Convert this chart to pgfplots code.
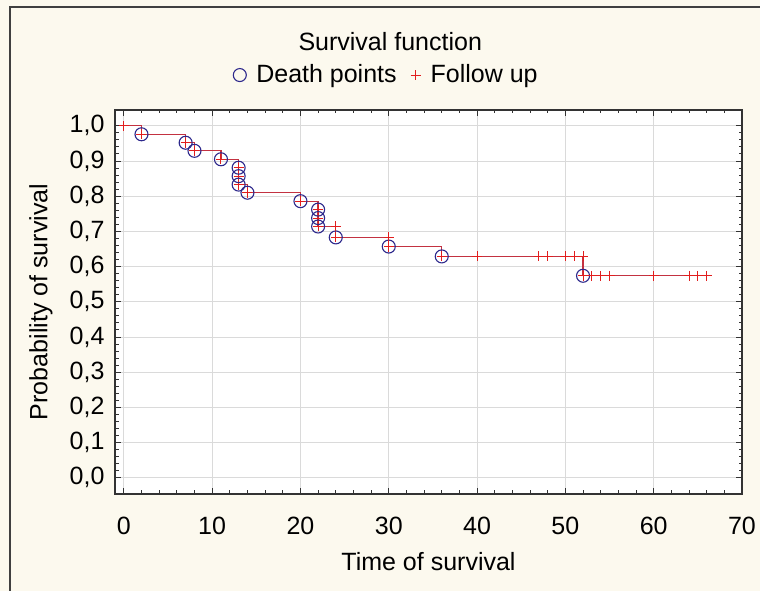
\documentclass[border=0pt]{standalone}
\usepackage{pgfplots}
\pgfplotsset{compat=1.18}
\usepackage{fontspec}
\setmainfont{Liberation Sans}
\definecolor{bgc}{RGB}{252,249,238}
\definecolor{linec}{RGB}{195,50,65}
\definecolor{plusc}{RGB}{225,30,30}
\definecolor{circc}{RGB}{45,40,140}
\definecolor{gridc}{RGB}{218,218,218}
\begin{document}
\fontsize{25}{30}\selectfont
\begin{tikzpicture}[x=1pt,y=1pt]
\fill[bgc] (0,0) rectangle (760,591);
\useasboundingbox (0,0) rectangle (760,591);
\draw[black!75, line width=1.5pt] (10,0) -- (10,584) -- (760,584);
\begin{axis}[
  at={(115pt,97pt)}, anchor=south west,
  scale only axis, width=627pt, height=384pt,
  xmin=-1, xmax=70, ymin=-0.046, ymax=1.045,
  axis background/.style={fill=white},
  xtick={0,10,20,30,40,50,60,70},
  ytick={0,0.1,0.2,0.3,0.4,0.5,0.6,0.7,0.8,0.9,1.0},
  minor x tick num=4, minor y tick num=4,
  grid=major, major grid style={gridc, line width=0.8pt},
  axis line style={black!80, line width=1.3pt},
  tick style={black!80, line width=1pt},
  major tick length=6pt, minor tick length=3.5pt,
  /pgf/number format/assume math mode=true,
  y tick label style={/pgf/number format/use comma, /pgf/number format/fixed, /pgf/number format/fixed zerofill, /pgf/number format/precision=1, xshift=-2pt},
  x tick label style={yshift=-15pt},
  ticklabel style={font=\fontsize{25}{30}\selectfont},
  xlabel={Time of survival},
  ylabel={Probability of survival},
  xlabel style={at={(axis description cs:0.5,-0.176)}, anchor=center, font=\fontsize{25}{30}\selectfont},
  ylabel style={at={(axis description cs:-0.118,0.5)}, anchor=center, font=\fontsize{25}{30}\selectfont},
  title={Survival function},
  title style={at={(axis description cs:0.439,1.162)}, anchor=center, font=\fontsize{25}{30}\selectfont},
  legend style={at={(axis description cs:0.433,1.091)}, anchor=center, draw=none, fill=none,
    legend columns=2, font=\fontsize{25}{30}\selectfont,
    /tikz/every odd column/.append style={column sep=8pt},
    /tikz/every even column/.append style={column sep=12pt}},
  legend cell align=left,
  clip=false,
]
% step line
\addplot[const plot, draw=linec, no markers, line width=1.3pt, forget plot] coordinates {
 (0,1.0) (2,0.976) (7,0.952) (8,0.929) (11,0.905) (13,0.833) (14,0.810)
 (20,0.786) (22,0.714) (24,0.683) (30,0.657) (36,0.629) (52,0.574) (66,0.574)
};
% plus at death points
\addplot[only marks, mark=+, mark size=5pt, color=plusc, mark options={line width=1pt}, forget plot] coordinates {
 (2,0.976) (7,0.952) (8,0.929) (11,0.905) (13,0.881) (13,0.857) (13,0.833) (14,0.810)
 (20,0.786) (22,0.762) (22,0.738) (22,0.714) (24,0.683) (30,0.657) (36,0.629) (52,0.574)
};
% death points
\addplot[only marks, mark=o, mark size=6.5pt, color=circc, mark options={line width=1.1pt}] coordinates {
 (2,0.976) (7,0.952) (8,0.929) (11,0.905) (13,0.881) (13,0.857) (13,0.833) (14,0.810)
 (20,0.786) (22,0.762) (22,0.738) (22,0.714) (24,0.683) (30,0.657) (36,0.629) (52,0.574)
};
\addlegendentry{Death points}
% follow up (censored)
\addplot[only marks, mark=+, mark size=5pt, color=plusc, mark options={line width=1pt}] coordinates {
 (0,1.0) (24,0.714) (30,0.683) (40,0.629) (47,0.629) (48,0.629) (50,0.629) (51,0.629) (52,0.629)
 (53,0.574) (54,0.574) (55,0.574) (60,0.574) (64,0.574) (65,0.574) (66,0.574)
};
\addlegendentry{Follow up}
\end{axis}
\end{tikzpicture}
\end{document}
